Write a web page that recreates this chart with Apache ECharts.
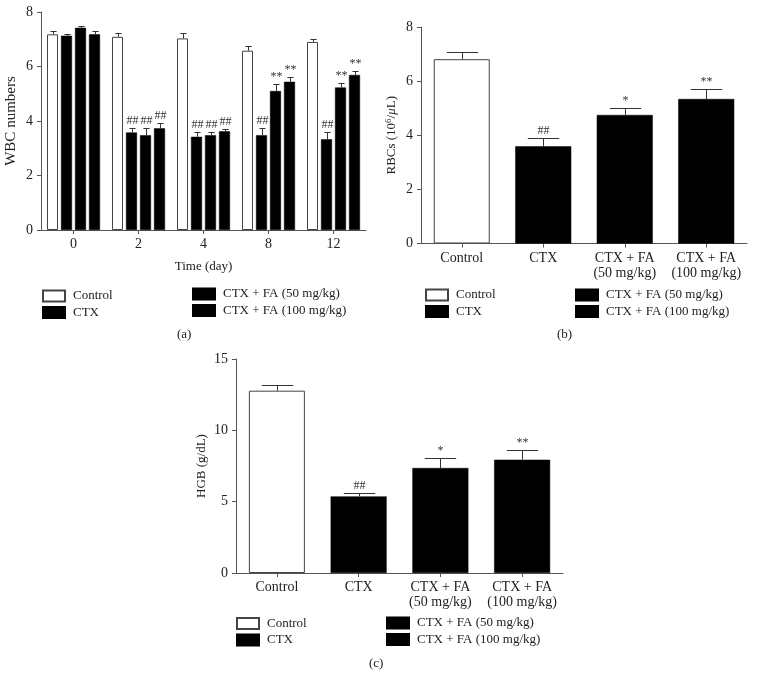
<!DOCTYPE html>
<html>
<head>
<meta charset="utf-8">
<script src="https://cdn.jsdelivr.net/npm/echarts@6/dist/echarts.min.js"></script>
<style>
  html, body { margin: 0; padding: 0; background: #fff; }
  #chart { width: 757px; height: 680px; }
</style>
</head>
<body>
<div id="chart"></div>
<script>
// groups
const groupNames = ['Control', 'CTX', 'CTX + FA (50 mg/kg)', 'CTX + FA (100 mg/kg)']
const groupLabels = ['Control', 'CTX', 'CTX + FA\n(50 mg/kg)', 'CTX + FA\n(100 mg/kg)']

// (a) WBC over time
const wbcDays = ['0', '2', '4', '8', '12']
const wbcControl = [7.18, 7.09, 7.03, 6.58, 6.90]
const wbcCTX = [7.13, 3.58, 3.42, 3.48, 3.33]
const wbcFA50 = [7.42, 3.48, 3.48, 5.10, 5.23]
const wbcFA100 = [7.18, 3.73, 3.62, 5.44, 5.69]
const wbcControlErr = [0.11, 0.15, 0.20, 0.17, 0.12]
const wbcCTXErr = [0.07, 0.15, 0.17, 0.25, 0.28]
const wbcFA50Err = [0.07, 0.25, 0.11, 0.25, 0.18]
const wbcFA100Err = [0.11, 0.20, 0.09, 0.18, 0.13]
const wbcControlSig = ['', '', '', '', '']
const wbcCTXSig = ['', '##', '##', '##', '##']
const wbcFA50Sig = ['', '##', '##', '**', '**']
const wbcFA100Sig = ['', '##', '##', '**', '**']

// (b) RBC
const rbcMean = [6.81, 3.59, 4.75, 5.34]
const rbcErr = [0.27, 0.31, 0.27, 0.37]
const rbcSig = ['', '##', '*', '**']

// (c) HGB
const hgbMean = [12.78, 5.37, 7.36, 7.94]
const hgbErr = [0.37, 0.21, 0.68, 0.70]
const hgbSig = ['', '##', '*', '**']

const font = '"Liberation Serif", "Times New Roman", serif'
const textColor = '#222'
const axisColor = '#555'
const errColor = '#333'

const barStyles = [
  { color: '#fff', borderColor: '#444', borderWidth: 1 },
  { color: '#000', borderColor: '#000', borderWidth: 0.5 },
  { color: '#000', borderColor: '#000', borderWidth: 0.5 },
  { color: '#000', borderColor: '#000', borderWidth: 0.5 }
]

// bar layout in (a)
const wbcBarW = 11
const wbcGap = 3
const wbcOffsets = [0, 1, 2, 3].map(k => (k - 1.5) * (wbcBarW + wbcGap))
const singleBarW = 56

function yAxis (gridIndex, max, interval, name, nameGap, nameSize, rich) {
  return {
    type: 'value',
    gridIndex,
    min: 0,
    max,
    interval,
    name,
    nameLocation: 'middle',
    nameGap,
    nameRotate: 90,
    nameTextStyle: { fontFamily: font, fontSize: nameSize, color: textColor, rich },
    axisLine: { show: true, lineStyle: { color: axisColor, width: 1 } },
    axisTick: { show: true, length: 4, lineStyle: { color: axisColor } },
    axisLabel: { margin: 8, fontFamily: font, fontSize: 14, color: textColor },
    splitLine: { show: false }
  }
}

function xAxis (gridIndex, data, name) {
  return {
    type: 'category',
    gridIndex,
    data,
    name,
    nameLocation: 'middle',
    nameGap: 30,
    nameTextStyle: { fontFamily: font, fontSize: 13, color: textColor },
    axisLine: { show: true, lineStyle: { color: axisColor, width: 1 } },
    axisTick: { show: true, alignWithLabel: true, length: 4, lineStyle: { color: axisColor } },
    axisLabel: { margin: 7, fontFamily: font, fontSize: 14, color: textColor, lineHeight: 15, interval: 0 }
  }
}

function errorSeries (axisIndex, values, errs, sigs, offset, barW) {
  return {
    type: 'custom',
    xAxisIndex: axisIndex,
    yAxisIndex: axisIndex,
    silent: true,
    z: 5,
    data: values.map((v, i) => [i, v, errs[i]]),
    encode: { x: 0, y: 1 },
    renderItem: (params, api) => {
      const i = api.value(0)
      const v = api.value(1)
      const e = api.value(2)
      if (isNaN(v)) return
      const base = api.coord([i, v])
      const top = api.coord([i, v + e])
      const cx = Math.round(base[0] + offset) + 0.5
      const ty = Math.round(top[1]) + 0.5
      const half = barW * 0.28
      const children = [{
        type: 'line',
        shape: { x1: cx, y1: base[1], x2: cx, y2: ty },
        style: { stroke: errColor, lineWidth: 1 }
      }, {
        type: 'line',
        shape: { x1: cx - half, y1: ty, x2: cx + half, y2: ty },
        style: { stroke: errColor, lineWidth: 1 }
      }]
      const s = sigs[params.dataIndex]
      if (s) {
        children.push({
          type: 'text',
          x: cx,
          y: ty - 2,
          style: {
            text: s,
            fill: '#333',
            font: '12px ' + font,
            align: 'center',
            verticalAlign: 'bottom'
          }
        })
      }
      return { type: 'group', children }
    }
  }
}

function legendPair (left, top, names) {
  return {
    orient: 'vertical',
    left,
    top,
    padding: 0,
    data: names,
    itemWidth: 22,
    itemHeight: 11,
    itemGap: 2.5,
    icon: 'rect',
    selectedMode: false,
    textStyle: { fontFamily: font, fontSize: 13, color: textColor, lineHeight: 14, padding: [0, 0, 0, 3] }
  }
}

const series = []

// (a)
const wbcSets = [
  [wbcControl, wbcControlErr, wbcControlSig],
  [wbcCTX, wbcCTXErr, wbcCTXSig],
  [wbcFA50, wbcFA50Err, wbcFA50Sig],
  [wbcFA100, wbcFA100Err, wbcFA100Sig]
]
wbcSets.forEach((set, k) => {
  series.push({
    name: groupNames[k],
    type: 'bar',
    xAxisIndex: 0,
    yAxisIndex: 0,
    data: set[0],
    barWidth: wbcBarW,
    barGap: (wbcGap / wbcBarW * 100) + '%',
    itemStyle: barStyles[k],
    silent: true
  })
})
wbcSets.forEach((set, k) => {
  series.push(errorSeries(0, set[0], set[1], set[2], wbcOffsets[k], wbcBarW))
})

// (b) and (c): one bar per category
function singlePanel (axisIndex, means, errs, sigs) {
  groupNames.forEach((name, k) => {
    series.push({
      name,
      type: 'bar',
      xAxisIndex: axisIndex,
      yAxisIndex: axisIndex,
      data: means.map((v, i) => (i === k ? v : '-')),
      barWidth: singleBarW,
      barGap: '-100%',
      itemStyle: barStyles[k],
      silent: true
    })
  })
  series.push(errorSeries(axisIndex, means, errs, sigs, 0, singleBarW))
}
singlePanel(1, rbcMean, rbcErr, rbcSig)
singlePanel(2, hgbMean, hgbErr, hgbSig)

const chart = echarts.init(document.getElementById('chart'))
chart.setOption({
  backgroundColor: '#fff',
  animation: false,
  grid: [
    { left: 41, top: 12, width: 325, height: 218 },
    { left: 421, top: 27, width: 326, height: 216.5 },
    { left: 236, top: 359, width: 327, height: 214 }
  ],
  xAxis: [
    xAxis(0, wbcDays, 'Time (day)'),
    xAxis(1, groupLabels, ''),
    xAxis(2, groupLabels, '')
  ],
  yAxis: [
    yAxis(0, 8, 2, 'WBC numbers', 22, 15),
    yAxis(1, 8, 2, 'RBCs (10{sup|6}/{it|μ}L)', 22, 13, {
      sup: { fontFamily: font, fontSize: 9, color: textColor, verticalAlign: 'top', padding: [0, 0, 6, 0] },
      it: { fontFamily: font, fontSize: 13, color: textColor, fontStyle: 'italic' }
    }),
    yAxis(2, 15, 5, 'HGB (g/dL)', 28, 13)
  ],
  legend: [
    legendPair(42, 289, groupNames.slice(0, 2)),
    legendPair(192, 287, groupNames.slice(2)),
    legendPair(425, 288, groupNames.slice(0, 2)),
    legendPair(575, 288, groupNames.slice(2)),
    legendPair(236, 616.5, groupNames.slice(0, 2)),
    legendPair(386, 616, groupNames.slice(2))
  ],
  graphic: [
    { type: 'text', left: 177, top: 328, style: { text: '(a)', font: '13px ' + font, fill: textColor } },
    { type: 'text', left: 557, top: 328, style: { text: '(b)', font: '13px ' + font, fill: textColor } },
    { type: 'text', left: 369, top: 657, style: { text: '(c)', font: '13px ' + font, fill: textColor } }
  ],
  series
})
</script>
</body>
</html>
